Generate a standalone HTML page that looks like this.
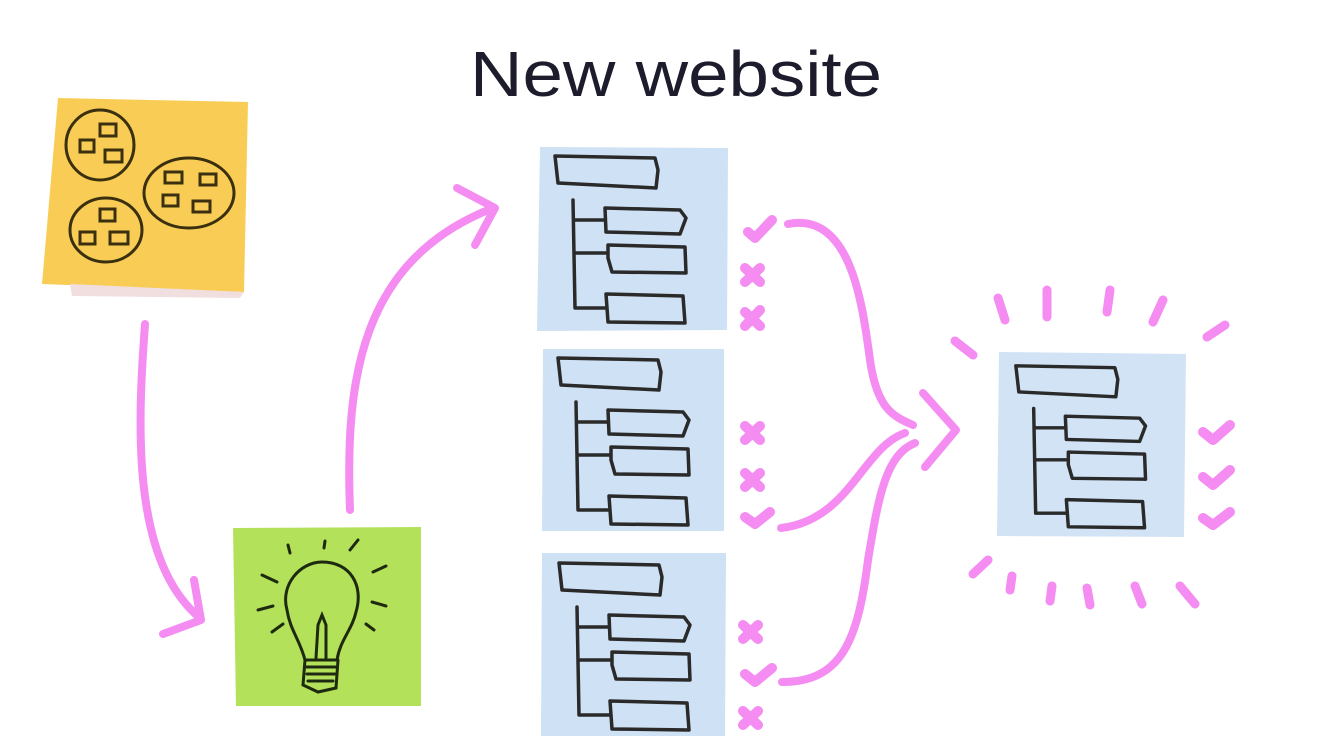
<!DOCTYPE html>
<html><head><meta charset="utf-8"><style>
html,body{margin:0;padding:0;background:#fff;}
svg{display:block}
</style></head><body>
<svg width="1338" height="747" viewBox="0 0 1338 747" xmlns="http://www.w3.org/2000/svg">
<defs>
<g id="tree" fill="none" stroke="#2a2a2a" stroke-width="3.5" stroke-linejoin="round" stroke-linecap="round">
  <path d="M15,8 L115,10 L118,22 L116,40 L18,35 Z"/>
  <path d="M33,52 L35,160 L65,160 M35,105 L66,105 M34,72 L64,72"/>
  <path d="M65,60 L140,62 L146,70 L140,86 L66,84 Z"/>
  <path d="M68,97 L145,99 L146,125 L72,124 L68,110 Z"/>
  <path d="M66,146 L143,148 L145,175 L68,174 Z"/>
</g>
</defs>

<text x="470" y="96" textLength="412" lengthAdjust="spacingAndGlyphs" font-family="Liberation Sans, sans-serif" font-size="64" fill="#1c1c2c">New website</text>

<!-- yellow note -->
<polygon points="58,98 248,102 244,292 42,284" fill="#f9cd55"/>
<polygon points="70,284 244,292 240,298 72,296" fill="#f1dede"/>
<g fill="none" stroke="#3a3010" stroke-width="3">
<ellipse cx="100" cy="145" rx="34" ry="35"/>
<ellipse cx="189" cy="193" rx="45" ry="35"/>
<ellipse cx="106" cy="230" rx="36" ry="32"/>
<rect x="100" y="124" width="16" height="12"/><rect x="80" y="140" width="14" height="12"/><rect x="105" y="150" width="17" height="12"/>
<rect x="165" y="172" width="17" height="11"/><rect x="200" y="174" width="16" height="11"/><rect x="163" y="195" width="15" height="11"/><rect x="193" y="201" width="17" height="11"/>
<rect x="100" y="209" width="15" height="12"/><rect x="80" y="232" width="15" height="12"/><rect x="110" y="232" width="18" height="12"/>
</g>

<!-- green note -->
<polygon points="233,528 421,527 421,706 236,706" fill="#b3e15a"/>
<g fill="none" stroke="#1e2a10" stroke-width="3" stroke-linecap="round">
<path d="M305,660 C300,640 290,630 287,610 C280,585 300,562 322,562 C350,562 364,585 356,612 C352,630 340,640 337,660 Z"/>
<path d="M305,660 L303,685 L318,692 L336,688 L338,660"/>
<path d="M306,667 L336,667 M307,674 L335,674 M308,681 L333,681"/>
<path d="M316,658 L318,625 L322,615 L326,625 L326,658"/>
<path d="M262,575 L277,582 M258,610 L273,606 M272,632 L283,624 M288,545 L290,553 M325,541 L324,548 M350,550 L358,540 M373,572 L386,566 M372,602 L386,606 M366,624 L374,630"/>
</g>

<!-- blue notes -->
<polygon points="540,147 728,148 727,330 537,331" fill="#cfe1f4"/>
<use href="#tree" x="540" y="148"/>
<polygon points="543,349 724,349 724,531 542,531" fill="#cfe1f4"/>
<use href="#tree" x="543" y="350"/>
<polygon points="542,553 726,553 725,736 541,736" fill="#cfe1f4"/>
<use href="#tree" x="544" y="555"/>
<polygon points="999,352 1186,354 1184,537 997,536" fill="#d2e3f5"/>
<use href="#tree" transform="translate(1001,358) scale(0.99,0.97)"/>

<!-- pink strokes -->
<g fill="none" stroke="#f48cf2" stroke-width="8" stroke-linecap="round" stroke-linejoin="round">
<path d="M145,324 C138,420 130,560 200,618"/>
<path d="M194,580 L201,620 L163,634"/>
<path d="M350,510 C345,380 360,260 493,208"/>
<path d="M457,188 L495,208 L475,245"/>
<path d="M788,224 C850,212 862,300 870,360 C877,408 892,416 913,425"/>
<path d="M781,528 C850,520 862,448 905,433"/>
<path d="M915,443 C885,455 878,500 868,560 C858,640 842,682 782,682"/>
<path d="M923,393 L956,430 L925,467"/>
</g>
<g fill="none" stroke="#f48cf2" stroke-width="10" stroke-linecap="round" stroke-linejoin="round">
<path d="M748,232 L755,238 L772,220"/>
<path d="M745,268 L760,282 M760,268 L745,282"/>
<path d="M745,312 L760,326 M760,310 L745,326"/>
<path d="M745,426 L760,440 M760,426 L745,440"/>
<path d="M745,473 L760,487 M760,473 L745,487"/>
<path d="M745,517 L755,524 L770,512"/>
<path d="M743,625 L758,639 M758,625 L743,639"/>
<path d="M745,674 L755,682 L772,668"/>
<path d="M743,711 L758,725 M758,711 L743,725"/>
<path d="M1203,432 L1213,440 L1230,425"/>
<path d="M1203,477 L1213,485 L1230,470"/>
<path d="M1203,518 L1213,525 L1230,512"/>
</g>
<g fill="none" stroke="#f48cf2" stroke-width="9" stroke-linecap="round">
<path d="M998,298 L1005,320 M1047,290 L1047,317 M1110,290 L1107,312 M1163,300 L1153,322 M1225,325 L1207,337 M955,341 L973,355"/>
<path d="M988,560 L973,574 M1012,576 L1010,590 M1052,586 L1050,601 M1087,588 L1090,605 M1135,586 L1142,604 M1180,586 L1195,604"/>
</g>
</svg>
</body></html>
